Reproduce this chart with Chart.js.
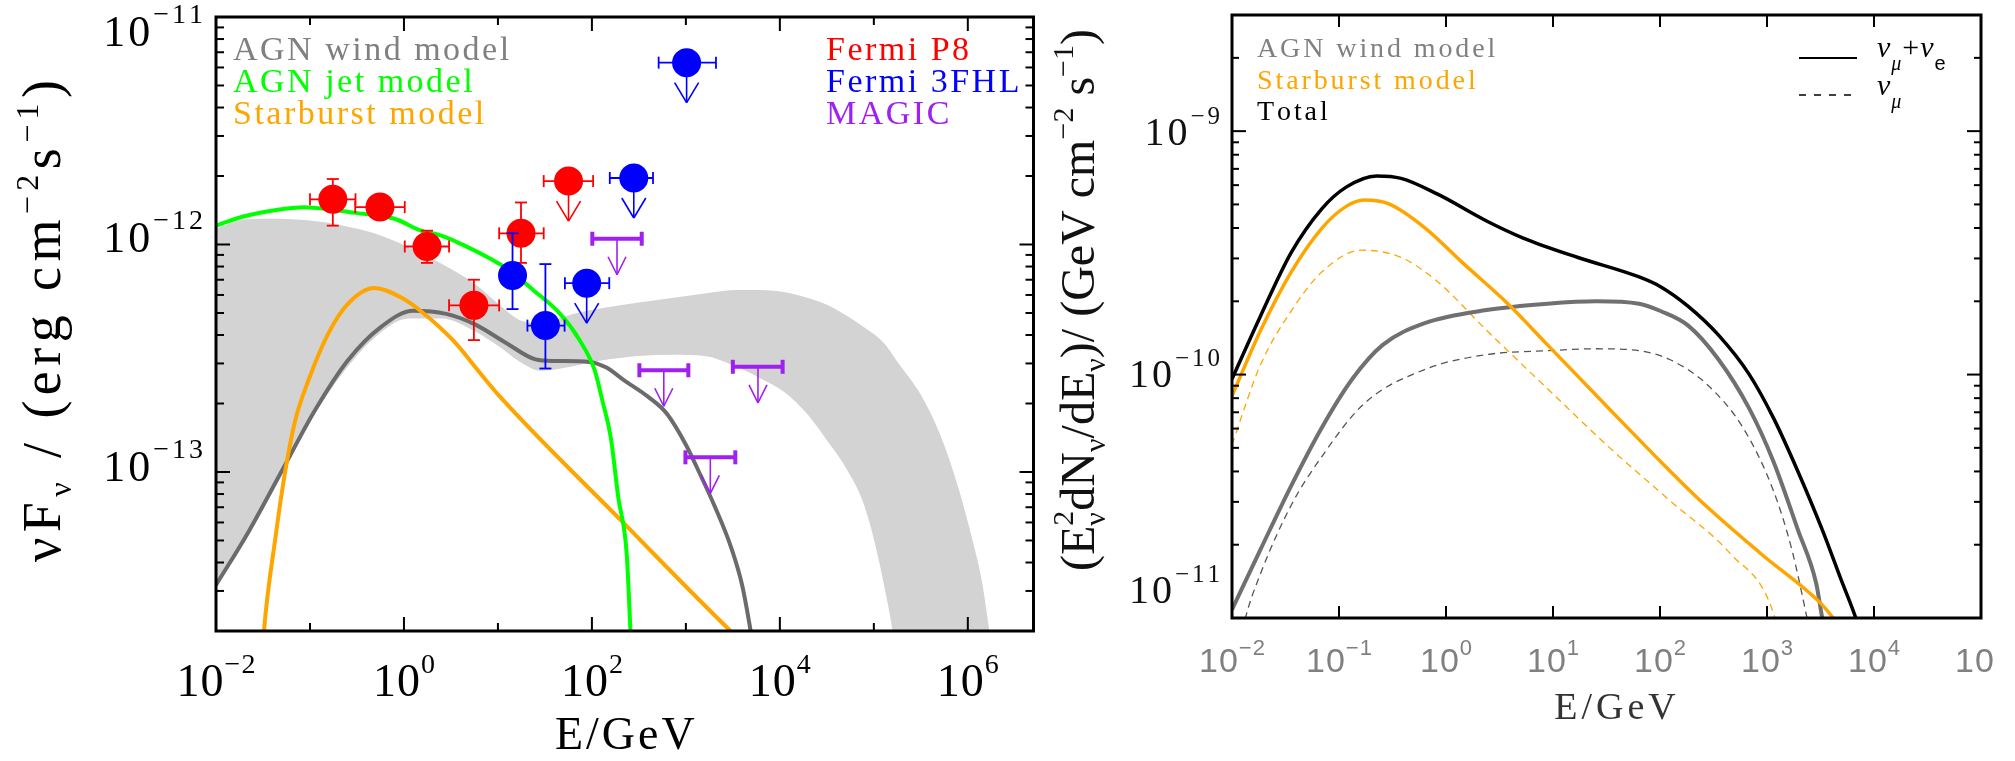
<!DOCTYPE html>
<html>
<head>
<meta charset="utf-8">
<script src="https://cdn.jsdelivr.net/npm/chart.js@4.4.0/dist/chart.umd.min.js"></script>
<style>
  html, body { margin: 0; padding: 0; background: #fff; overflow: hidden; }
  #sed { position: absolute; left: 0; top: 0; }
  #nu { position: absolute; left: 1048px; top: 0; }
</style>
</head>
<body>
<canvas id="sed" width="1048" height="761"></canvas>
<canvas id="nu" width="967" height="761"></canvas>
<script>
// values, stored as log10(E/GeV) and log10(flux)

// ---- left panel: gamma-ray SED ----
const sedX = [1e-2, 5e6]
const sedY = [2e-14, 1e-11]

const bandLogE   = [-2, -1.7, -1.4, -1.0, -0.66, -0.3, 0.05, 0.4, 0.75, 1.0, 1.25, 1.45, 1.8, 2.1, 2.5, 2.85, 3.2, 3.55, 3.8, 4.05, 4.3, 4.5, 4.7, 4.9, 5.1, 5.25, 5.5, 5.7, 5.9, 6.05, 6.15, 6.25, 6.35]
const bandHiLogF = [-11.93, -11.89, -11.887, -11.895, -11.917, -11.953, -12.012, -12.085, -12.172, -12.26, -12.335, -12.345, -12.305, -12.28, -12.255, -12.235, -12.215, -12.2, -12.2, -12.21, -12.235, -12.265, -12.31, -12.365, -12.43, -12.515, -12.66, -12.83, -13.07, -13.3, -13.48, -13.75, -13.95]
const bandLoLogF = [-13.5, -13.3, -13.08, -12.78, -12.57, -12.405, -12.325, -12.325, -12.38, -12.445, -12.52, -12.555, -12.535, -12.51, -12.49, -12.485, -12.49, -12.54, -12.59, -12.65, -12.75, -12.86, -12.98, -13.15, -13.48, -13.85, -15, -15, -15, -15, -15, -15, -15]

const windLogE = [-2, -1.65, -1.3, -0.95, -0.6, -0.25, 0.1, 0.45, 0.75, 1.1, 1.4, 1.6, 1.97, 2.15, 2.34, 2.6, 2.8, 3.0, 3.14, 3.31, 3.48, 3.6, 3.69, 3.75]
const windLogF = [-13.497, -13.26, -12.996, -12.731, -12.511, -12.364, -12.291, -12.305, -12.35, -12.436, -12.505, -12.512, -12.516, -12.54, -12.596, -12.67, -12.745, -12.88, -13.0, -13.154, -13.33, -13.5, -13.7, -13.85]

const jetLogE = [-2, -1.71, -1.36, -1.06, -0.8, -0.52, -0.1, 0.18, 0.39, 0.64, 0.92, 1.1, 1.38, 1.66, 1.87, 2.03, 2.11, 2.2, 2.28, 2.37, 2.41, 2.43]
const jetLogF = [-11.917, -11.877, -11.848, -11.836, -11.845, -11.861, -11.887, -11.939, -11.96, -12.004, -12.063, -12.107, -12.202, -12.304, -12.421, -12.553, -12.684, -12.846, -13.11, -13.359, -13.7, -13.9]

const starLogE = [-1.52, -1.49, -1.368, -1.263, -1.158, -1.018, -0.807, -0.597, -0.316, -0.035, 0.175, 0.526, 0.814, 1.024, 2.31, 3.478, 3.53]
const starLogF = [-13.9, -13.703, -13.29, -12.996, -12.775, -12.599, -12.393, -12.261, -12.191, -12.232, -12.291, -12.423, -12.567, -12.67, -13.213, -13.7, -13.72]

// Fermi P8 detections and upper limit
const p8E   = [0.175, 0.555, 1.76, 5.55, 17.6]
const p8F   = [1.58e-12, 1.46e-12, 9.8e-13, 5.4e-13, 1.12e-12]
const p8Elo = [0.1, 0.303, 1.02, 3.02, 10.3]
const p8Ehi = [0.305, 1.02, 3.02, 10.3, 30.7]
const p8Flo = [1.21e-12, null, 8.3e-13, 3.8e-13, 8.3e-13]
const p8Fhi = [1.94e-12, null, 1.15e-12, 7.0e-13, 1.53e-12]
const p8UlE = [56.4], p8UlF = [1.9e-12], p8UlElo = [30.7], p8UlEhi = [103]

// Fermi 3FHL detections and upper limits
const fhlE   = [14.3, 32]
const fhlF   = [7.3e-13, 4.4e-13]
const fhlElo = [null, 20.6]
const fhlEhi = [null, 51.2]
const fhlFlo = [5.2e-13, 2.85e-13]
const fhlFhi = [1.12e-12, 8.2e-13]
const fhlUlE   = [88, 279, 1018]
const fhlUlF   = [6.76e-13, 1.96e-12, 6.3e-12]
const fhlUlElo = [51.6, 155, 513]
const fhlUlEhi = [153, 447, 2090]

// MAGIC upper limits
const magicE   = [185, 582, 5850, 1820]
const magicF   = [1.06e-12, 2.8e-13, 2.9e-13, 1.16e-13]
const magicElo = [101, 320, 3160, 989]
const magicEhi = [339, 1062, 10700, 3357]

// ---- right panel: neutrino fluxes ----
const nuX = [1e-2, 1e5]
const nuY = [1e-11, 3e-9]

const totLogE = [-2, -1.732, -1.447, -1.161, -0.933, -0.648, -0.42, -0.078, 0.379, 0.721, 1.234, 1.805, 2.005, 2.261, 2.547, 2.832, 3.06, 3.288, 3.516, 3.687, 3.83, 3.9]
const totLogF = [-10.018, -9.758, -9.499, -9.319, -9.23, -9.184, -9.194, -9.259, -9.369, -9.439, -9.519, -9.599, -9.639, -9.719, -9.838, -9.998, -10.178, -10.397, -10.637, -10.836, -11.0, -11.1]

const sbLogE = [-2, -1.732, -1.447, -1.161, -0.933, -0.762, -0.534, -0.192, 0.151, 0.578, 0.949, 1.52, 2.005, 2.375, 2.946, 3.516, 3.619, 3.7]
const sbLogF = [-10.088, -9.818, -9.579, -9.399, -9.309, -9.283, -9.299, -9.399, -9.539, -9.709, -9.878, -10.138, -10.357, -10.517, -10.737, -10.946, -11.0, -11.04]

const sbMuLogE = [-2, -1.732, -1.447, -1.161, -0.791, -0.42, -0.078, 0.379, 0.949, 1.52, 2.09, 2.66, 3.06, 3.12]
const sbMuLogF = [-10.287, -9.958, -9.739, -9.579, -9.489, -9.519, -9.619, -9.818, -10.058, -10.297, -10.517, -10.737, -10.98, -11.1]

const wdLogE = [-2, -1.732, -1.447, -1.161, -0.876, -0.591, -0.192, 0.379, 0.949, 1.406, 1.805, 2.005, 2.261, 2.547, 2.832, 3.06, 3.288, 3.459, 3.516, 3.56]
const wdLogF = [-10.966, -10.717, -10.457, -10.218, -10.018, -9.878, -9.788, -9.735, -9.709, -9.699, -9.709, -9.739, -9.798, -9.938, -10.138, -10.357, -10.637, -10.856, -11.0, -11.1]

const wdMuLogE = [-1.95, -1.875, -1.732, -1.447, -1.161, -0.762, -0.192, 0.379, 0.949, 1.406, 1.805, 2.09, 2.433, 2.775, 3.06, 3.231, 3.374, 3.42]
const wdMuLogF = [-11.15, -11.0, -10.816, -10.537, -10.337, -10.118, -9.978, -9.918, -9.902, -9.894, -9.902, -9.938, -10.038, -10.218, -10.477, -10.717, -11.0, -11.1]


const SERIF = '"Liberation Serif", "DejaVu Serif", serif'
const SANS = '"Liberation Sans", "DejaVu Sans", sans-serif'

function pts(logE, logF) {
    return logE.map((e, i) => ({ x: Math.pow(10, e), y: Math.pow(10, logF[i]) }))
}
function xy(E, F) {
    return E.map((e, i) => ({ x: e, y: F[i] }))
}

function font(r) {
    return (r.it ? 'italic ' : '') + r.s + 'px ' + (r.f || SERIF)
}

// text made of runs (sub/superscripts), drawn char by char with extra spacing
function runsWidth(ctx, runs, sp) {
    let w = 0
    for (const r of runs) {
        ctx.font = font(r)
        let rw = 0
        for (const ch of r.t) rw += ctx.measureText(ch).width + sp
        if (r.adv !== false) w += rw
    }
    return w - sp
}
function drawRuns(ctx, runs, x, y, align, sp) {
    sp = sp || 0
    const w = runsWidth(ctx, runs, sp)
    let cx = align === 'center' ? x - w / 2 : (align === 'right' ? x - w : x)
    ctx.textAlign = 'left'
    ctx.textBaseline = 'alphabetic'
    for (const r of runs) {
        ctx.font = font(r)
        let rx = cx
        for (const ch of r.t) {
            ctx.fillText(ch, rx, y + (r.dy || 0))
            rx += ctx.measureText(ch).width + sp
        }
        if (r.adv !== false) cx = rx
    }
}
function fitSpacing(ctx, runs, target) {
    let n = 0
    for (const r of runs) if (r.adv !== false) n += [...r.t].length
    return (target - runsWidth(ctx, runs, 0)) / (n - 1)
}
function vTitle(ctx, runs, bx, cy, target) {
    const sp = fitSpacing(ctx, runs, target)
    ctx.save()
    ctx.translate(bx, cy)
    ctx.rotate(-Math.PI / 2)
    drawRuns(ctx, runs, 0, 0, 'center', sp)
    ctx.restore()
}

function seg(ctx, x1, y1, x2, y2) {
    ctx.beginPath()
    ctx.moveTo(x1, y1)
    ctx.lineTo(x2, y2)
    ctx.stroke()
}

// frame with inward ticks on all four sides
function drawFrame(chart, xTicks, yTicks) {
    const ctx = chart.ctx, a = chart.chartArea
    const xs = chart.scales.x, ys = chart.scales.y
    ctx.save()
    ctx.strokeStyle = '#000'
    ctx.lineWidth = 2
    for (const t of xTicks) {
        const px = xs.getPixelForValue(t.v)
        seg(ctx, px, a.bottom, px, a.bottom - t.len)
        seg(ctx, px, a.top, px, a.top + t.len)
    }
    for (const t of yTicks) {
        const py = ys.getPixelForValue(t.v)
        seg(ctx, a.left, py, a.left + t.len, py)
        seg(ctx, a.right, py, a.right - t.len, py)
    }
    ctx.lineWidth = 3
    ctx.strokeRect(a.left, a.top, a.right - a.left, a.bottom - a.top)
    ctx.restore()
}

// error bars / upper-limit arrows, drawn right after their own dataset
const errorBars = {
    id: 'errorBars',
    afterDatasetDraw(chart, args) {
        const ds = chart.data.datasets[args.index]
        const b = ds.bars
        if (!b) return
        const ctx = chart.ctx, xs = chart.scales.x, ys = chart.scales.y
        ctx.save()
        ctx.strokeStyle = b.color
        ds.data.forEach((p, i) => {
            const px = xs.getPixelForValue(p.x), py = ys.getPixelForValue(p.y)
            if (b.elo && b.elo[i] != null) {
                const x1 = xs.getPixelForValue(b.elo[i]), x2 = xs.getPixelForValue(b.ehi[i])
                ctx.lineWidth = b.lw
                seg(ctx, x1, py, x2, py)
                seg(ctx, x1, py - b.cap, x1, py + b.cap)
                seg(ctx, x2, py - b.cap, x2, py + b.cap)
            }
            if (b.flo && b.flo[i] != null) {
                const y1 = ys.getPixelForValue(b.flo[i]), y2 = ys.getPixelForValue(b.fhi[i])
                ctx.lineWidth = b.lw
                seg(ctx, px, y1, px, y2)
                seg(ctx, px - b.cap, y1, px + b.cap, y1)
                seg(ctx, px - b.cap, y2, px + b.cap, y2)
            }
            if (b.ul) {
                const tip = py + b.ul
                ctx.lineWidth = 1.6
                seg(ctx, px, py, px, tip)
                seg(ctx, px - b.head, tip - b.headH, px, tip)
                seg(ctx, px + b.head, tip - b.headH, px, tip)
            }
        })
        ctx.restore()
    }
}

function curve(label, data, color, width, order, dash) {
    return {
        label: label, data: data, borderColor: color, borderWidth: width,
        borderDash: dash || [], pointRadius: 0, fill: false,
        cubicInterpolationMode: 'monotone', order: order
    }
}
function marks(label, data, color, radius, order, bars) {
    return {
        label: label, data: data, showLine: false, pointRadius: radius,
        pointBackgroundColor: color, pointBorderWidth: 0, pointStyle: 'circle',
        order: order, bars: bars
    }
}

function logScale(range) {
    return { type: 'logarithmic', min: range[0], max: range[1], display: false }
}

// ---------------- left chart ----------------
const fermiBar = { color: '#ff0000', lw: 1.8, cap: 6 }
const fhlBar = { color: '#0000ff', lw: 1.8, cap: 6 }

const sedDecor = {
    id: 'sedDecor',
    afterDraw(chart) {
        const ctx = chart.ctx, xs = chart.scales.x, ys = chart.scales.y
        const xT = [], yT = []
        for (let n = -1; n <= 6; n++) xT.push({ v: Math.pow(10, n), len: n % 2 === 0 ? 14 : 8 })
        for (let n = -14; n <= -12; n++)
            for (let k = 1; k <= 9; k++) {
                const v = k * Math.pow(10, n)
                if (v > sedY[0] && v < sedY[1]) yT.push({ v: v, len: k === 1 ? 14 : 8 })
            }
        drawFrame(chart, xT, yT)

        ctx.save()
        ctx.fillStyle = '#000'
        for (const n of [-2, 0, 2, 4, 6]) {
            const px = xs.getPixelForValue(Math.pow(10, n))
            drawRuns(ctx, [{ t: '10', s: 46 }, { t: n < 0 ? '−' + (-n) : '' + n, s: 28, dy: -23 }], px, 696, 'center', 1)
        }
        const yOff = { '-11': 29, '-12': 8, '-13': 9 }
        for (const n of [-11, -12, -13]) {
            const py = ys.getPixelForValue(Math.pow(10, n))
            drawRuns(ctx, [{ t: '10', s: 44 }, { t: '−' + (-n), s: 28, dy: -23 }], 203, py + yOff[n], 'right', 3)
        }
        drawRuns(ctx, [{ t: 'E/GeV', s: 46 }], (chart.chartArea.left + chart.chartArea.right) / 2, 749, 'center', 3)

        vTitle(ctx, [
            { t: 'ν', s: 54 }, { t: 'F', s: 54 }, { t: 'ν', s: 32, dy: 11 },
            { t: ' / (erg cm', s: 54 }, { t: '−2', s: 32, dy: -22 }, { t: 's', s: 54 },
            { t: '−1', s: 32, dy: -22 }, { t: ')', s: 54 }
        ], 60, 321, 482)

        // legends
        const left = [['AGN wind model', '#808080'], ['AGN jet model', '#00ff00'], ['Starburst model', '#ffa500']]
        const right = [['Fermi P8', '#ff0000'], ['Fermi 3FHL', '#0000ff'], ['MAGIC', '#a020f0']]
        left.forEach((l, i) => { ctx.fillStyle = l[1]; drawRuns(ctx, [{ t: l[0], s: 34 }], 233, 60 + 32 * i, 'left', 2.5) })
        right.forEach((l, i) => { ctx.fillStyle = l[1]; drawRuns(ctx, [{ t: l[0], s: 34 }], 826, 60 + 32 * i, 'left', 2.5) })
        ctx.restore()
    }
}

new Chart(document.getElementById('sed'), {
    type: 'line',
    data: {
        datasets: [
            { label: 'band', data: pts(bandLogE, bandHiLogF), fill: '+1', backgroundColor: '#d3d3d3',
              borderWidth: 0, pointRadius: 0, cubicInterpolationMode: 'monotone', order: 10 },
            { label: 'band low', data: pts(bandLogE, bandLoLogF), fill: false, borderWidth: 0,
              pointRadius: 0, cubicInterpolationMode: 'monotone', order: 10 },
            curve('AGN wind model', pts(windLogE, windLogF), '#6b6b6b', 4, 7),
            curve('Starburst model', pts(starLogE, starLogF), '#ffa500', 4, 6),
            curve('AGN jet model', pts(jetLogE, jetLogF), '#00ff00', 4, 5),
            marks('Fermi P8', xy(p8E, p8F), '#ff0000', 14.5, 4,
                  Object.assign({ elo: p8Elo, ehi: p8Ehi, flo: p8Flo, fhi: p8Fhi }, fermiBar)),
            marks('Fermi P8 UL', xy(p8UlE, p8UlF), '#ff0000', 14.5, 4,
                  Object.assign({ elo: p8UlElo, ehi: p8UlEhi, ul: 40, head: 12, headH: 20 }, fermiBar)),
            marks('Fermi 3FHL', xy(fhlE, fhlF), '#0000ff', 14.5, 3,
                  Object.assign({ elo: fhlElo, ehi: fhlEhi, flo: fhlFlo, fhi: fhlFhi }, fhlBar)),
            marks('Fermi 3FHL UL', xy(fhlUlE, fhlUlF), '#0000ff', 14.5, 3,
                  Object.assign({ elo: fhlUlElo, ehi: fhlUlEhi, ul: 40, head: 12, headH: 20 }, fhlBar)),
            marks('MAGIC', xy(magicE, magicF), '#a020f0', 0, 2,
                  { color: '#a020f0', lw: 4, cap: 7, elo: magicElo, ehi: magicEhi, ul: 36, head: 9, headH: 18 })
        ]
    },
    options: {
        responsive: false,
        animation: false,
        events: [],
        layout: { padding: { left: 216, right: 6, top: 17, bottom: 130 } },
        scales: { x: logScale(sedX), y: logScale(sedY) },
        plugins: { legend: { display: false }, tooltip: { enabled: false } }
    },
    plugins: [errorBars, sedDecor]
})

// ---------------- right chart ----------------
const nuDecor = {
    id: 'nuDecor',
    afterDraw(chart) {
        const ctx = chart.ctx, xs = chart.scales.x, ys = chart.scales.y
        const xT = [], yT = []
        for (let n = -1; n <= 4; n++) xT.push({ v: Math.pow(10, n), len: 12 })
        for (let n = -11; n <= -9; n++)
            for (let k = 1; k <= 9; k++) {
                const v = k * Math.pow(10, n)
                if (v > nuY[0] && v < nuY[1]) yT.push({ v: v, len: k === 1 ? 14 : 7 })
            }
        drawFrame(chart, xT, yT)

        ctx.save()
        // the source figure is cut just after the last "10"
        ctx.beginPath()
        ctx.rect(0, 0, 1995 - 1048, 761)
        ctx.clip()
        ctx.fillStyle = '#808080'
        for (let n = -2; n <= 5; n++) {
            const px = xs.getPixelForValue(Math.pow(10, n))
            drawRuns(ctx, [{ t: '10', s: 34, f: SANS }, { t: n < 0 ? '−' + (-n) : '' + n, s: 22, f: SANS, dy: -17 }], px, 672, 'center', 1)
        }
        ctx.restore()

        ctx.save()
        ctx.fillStyle = '#111'
        const yOff = { '-9': 14, '-10': 12, '-11': -15 }
        for (const n of [-9, -10, -11]) {
            const py = ys.getPixelForValue(Math.pow(10, n))
            drawRuns(ctx, [{ t: '10', s: 40 }, { t: '−' + (-n), s: 25, dy: -21 }], 172, py + yOff[n], 'right', 3)
        }
        ctx.fillStyle = '#333'
        drawRuns(ctx, [{ t: 'E/GeV', s: 38 }], 1615 - 1048, 719, 'center', 4)

        ctx.fillStyle = '#111'
        vTitle(ctx, [
            { t: '(', s: 48 }, { t: 'E', s: 48 }, { t: 'ν', s: 30, dy: 11, adv: false }, { t: '2', s: 30, dy: -21 },
            { t: 'dN', s: 48 }, { t: 'ν', s: 30, dy: 11 }, { t: '/dE', s: 48 }, { t: 'ν', s: 30, dy: 11 },
            { t: ')/ (GeV cm', s: 48 }, { t: '−2', s: 30, dy: -21 }, { t: ' s', s: 48 },
            { t: '−1', s: 30, dy: -21 }, { t: ')', s: 48 }
        ], 46, 300, 542)

        const leg = [['AGN wind model', '#808080'], ['Starburst model', '#ffa500'], ['Total', '#000']]
        leg.forEach((l, i) => { ctx.fillStyle = l[1]; drawRuns(ctx, [{ t: l[0], s: 28 }], 209, 57 + 31.5 * i, 'left', 2.9) })

        // flavour key
        ctx.strokeStyle = '#000'
        ctx.lineWidth = 2
        seg(ctx, 1799 - 1048, 58, 1857 - 1048, 58)
        ctx.lineWidth = 1.5
        ctx.setLineDash([7, 8])
        seg(ctx, 1799 - 1048, 95, 1859 - 1048, 95)
        ctx.setLineDash([])
        ctx.fillStyle = '#000'
        drawRuns(ctx, [{ t: 'ν', s: 30, it: true }, { t: 'μ', s: 20, it: true, dy: 13 }, { t: '+', s: 30 },
                       { t: 'ν', s: 30, it: true }, { t: 'e', s: 20, f: SANS, dy: 13 }], 829, 57, 'left', 1)
        drawRuns(ctx, [{ t: 'ν', s: 30, it: true }, { t: 'μ', s: 20, it: true, dy: 13 }], 829, 95, 'left', 1)
        ctx.restore()
    }
}

new Chart(document.getElementById('nu'), {
    type: 'line',
    data: {
        datasets: [
            curve('Total', pts(totLogE, totLogF), '#000000', 3.5, 1),
            curve('Starburst model', pts(sbLogE, sbLogF), '#ffa500', 3.5, 2),
            curve('Starburst model nu_mu', pts(sbMuLogE, sbMuLogF), '#ffa500', 1.3, 4, [7, 5]),
            curve('AGN wind model', pts(wdLogE, wdLogF), '#707070', 4, 3),
            curve('AGN wind model nu_mu', pts(wdMuLogE, wdMuLogF), '#555555', 1.3, 5, [7, 5])
        ]
    },
    options: {
        responsive: false,
        animation: false,
        events: [],
        layout: { padding: { left: 184, right: 34, top: 15, bottom: 143 } },
        scales: { x: logScale(nuX), y: logScale(nuY) },
        plugins: { legend: { display: false }, tooltip: { enabled: false } }
    },
    plugins: [nuDecor]
})
</script>
</body>
</html>
